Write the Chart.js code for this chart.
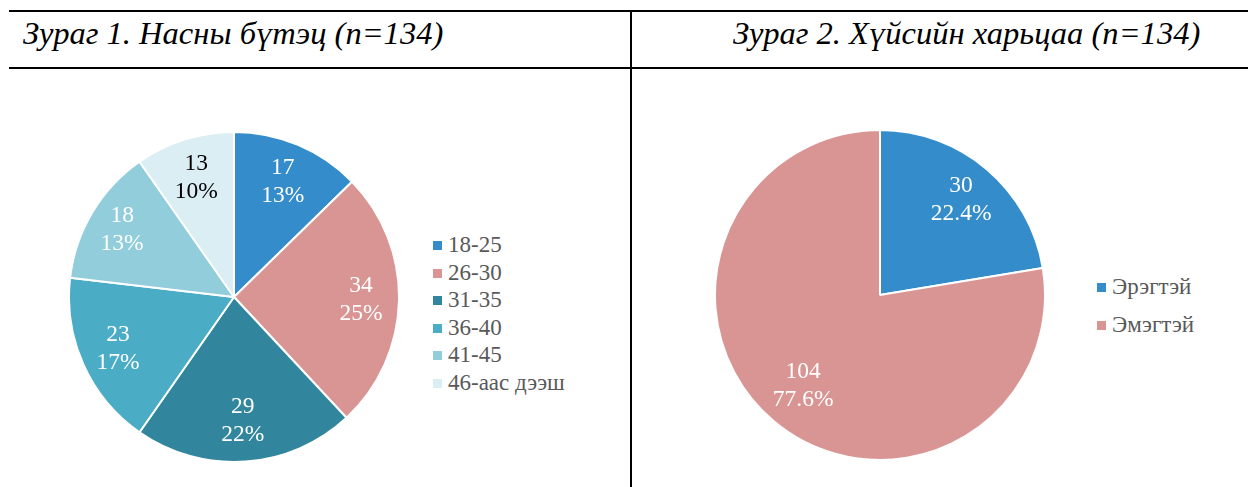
<!DOCTYPE html>
<html>
<head>
<meta charset="utf-8">
<script src="https://cdn.jsdelivr.net/npm/chart.js@4/dist/chart.umd.min.js"></script>
<style>
  html, body { margin: 0; padding: 0; background: #fff; }
  body { width: 1248px; height: 487px; position: relative; overflow: hidden; }
  .hline { position: absolute; height: 2px; background: #000; }
  .vline { position: absolute; width: 2px; background: #000; }
  .title { position: absolute; font-family: "Liberation Serif", serif; font-style: italic; font-size: 31px; color: #000; white-space: nowrap; line-height: 1; transform: scaleX(1.05); transform-origin: left top; }
  .chartbox { position: absolute; }
  .legend { position: absolute; font-family: "Liberation Serif", serif; font-size: 23px; color: #595959; }
  .legend .item { position: absolute; left: 0; white-space: nowrap; line-height: 1; }
  .legend .sw { position: absolute; width: 9px; height: 9px; }
  .legend .tx { position: absolute; left: 15px; }
</style>
</head>
<body>
<div class="hline" style="left:9px; top:10px; width:1239px;"></div>
<div class="hline" style="left:9px; top:67px; width:1239px;"></div>
<div class="vline" style="left:630px; top:10px; height:477px;"></div>

<div class="title" id="t1" style="left:23px; top:18px;"></div>
<div class="title" id="t2" style="left:733px; top:18px;"></div>

<div class="chartbox" style="left:68px; top:131px; width:332px; height:332px;"><canvas id="c1"></canvas></div>
<div class="chartbox" style="left:714px; top:129px; width:332px; height:332px;"><canvas id="c2"></canvas></div>

<div class="legend" id="lg1" style="left:433px; top:0px;"></div>
<div class="legend" id="lg2" style="left:1097px; top:0px;"></div>

<script>
// ---- Data ----
const ageCategories = ["18-25", "26-30", "31-35", "36-40", "41-45", "46-аас дээш"];
const ageCounts = [17, 34, 29, 23, 18, 13];
const agePercentLabels = ["13%", "25%", "22%", "17%", "13%", "10%"];

const genderCategories = ["Эрэгтэй", "Эмэгтэй"];
const genderCounts = [30, 104];
const genderPercentLabels = ["22.4%", "77.6%"];

const titles = ["Зураг 1. Насны бүтэц (n=134)", "Зураг 2. Хүйсийн харьцаа (n=134)"];

// ---- Styles ----
const ageColors = ["#358ccb", "#d99594", "#31859c", "#4bacc6", "#92cddc", "#daeef3"];
const ageLabelColors = ["#fff", "#fff", "#fff", "#fff", "#fff", "#000"];
const genderColors = ["#358ccb", "#d99594"];
const genderLabelColors = ["#fff", "#fff"];

document.getElementById('t1').textContent = titles[0];
document.getElementById('t2').textContent = titles[1];

function makeSliceLabelPlugin(cfg) {
  return {
    id: 'sliceLabels_' + cfg.name,
    afterDatasetsDraw(chart) {
      const ctx = chart.ctx;
      const meta = chart.getDatasetMeta(0);
      const data = chart.data.datasets[0].data;
      ctx.save();
      ctx.font = '23.5px "Liberation Serif"';
      ctx.textAlign = 'center';
      ctx.textBaseline = 'middle';
      meta.data.forEach((arc, i) => {
        const p = arc.getProps(['x', 'y', 'startAngle', 'endAngle', 'outerRadius'], true);
        const mid = (p.startAngle + p.endAngle) / 2;
        const r = p.outerRadius * cfg.fracs[i];
        const cx = p.x + Math.cos(mid) * r;
        const cy = p.y + Math.sin(mid) * r;
        ctx.fillStyle = cfg.colors[i];
        ctx.fillText(String(data[i]), cx, cy - 14);
        ctx.fillText(cfg.pct[i], cx, cy + 14);
      });
      ctx.restore();
    }
  };
}

function makePie(id, labels, values, colors, labelColors, pct, fracs) {
  return new Chart(document.getElementById(id), {
    type: 'pie',
    data: {
      labels: labels,
      datasets: [{ data: values, backgroundColor: colors, borderColor: '#ffffff', borderWidth: 2 }]
    },
    options: {
      responsive: true,
      maintainAspectRatio: false,
      animation: false,
      layout: { padding: 0 },
      plugins: {
        legend: { display: false },
        tooltip: { enabled: false }
      }
    },
    plugins: [makeSliceLabelPlugin({ name: id, colors: labelColors, pct: pct, fracs: fracs })]
  });
}

function buildLegend(el, labels, colors, tops) {
  labels.forEach((lab, i) => {
    const it = document.createElement('div');
    it.className = 'item';
    it.style.top = tops[i] + 'px';
    const sw = document.createElement('div');
    sw.className = 'sw';
    sw.style.background = colors[i];
    sw.style.top = '-4px';
    const tx = document.createElement('div');
    tx.className = 'tx';
    tx.textContent = lab;
    tx.style.top = '-12px';
    it.appendChild(sw); it.appendChild(tx);
    el.appendChild(it);
  });
}
buildLegend(document.getElementById('lg1'), ageCategories, ageColors, [245, 272.5, 300, 327.5, 355, 382.5]);
buildLegend(document.getElementById('lg2'), genderCategories, genderColors, [287, 325]);

function draw() {
  makePie('c1', ageCategories, ageCounts, ageColors, ageLabelColors, agePercentLabels, [0.76, 0.77, 0.75, 0.77, 0.79, 0.76]);
  makePie('c2', genderCategories, genderCounts, genderColors, genderLabelColors, genderPercentLabels, [0.76, 0.72]);
}
if (document.fonts && document.fonts.load) {
  document.fonts.load('23.5px "Liberation Serif"', '0123456789%').then(draw, draw);
} else {
  draw();
}
</script>
</body>
</html>
